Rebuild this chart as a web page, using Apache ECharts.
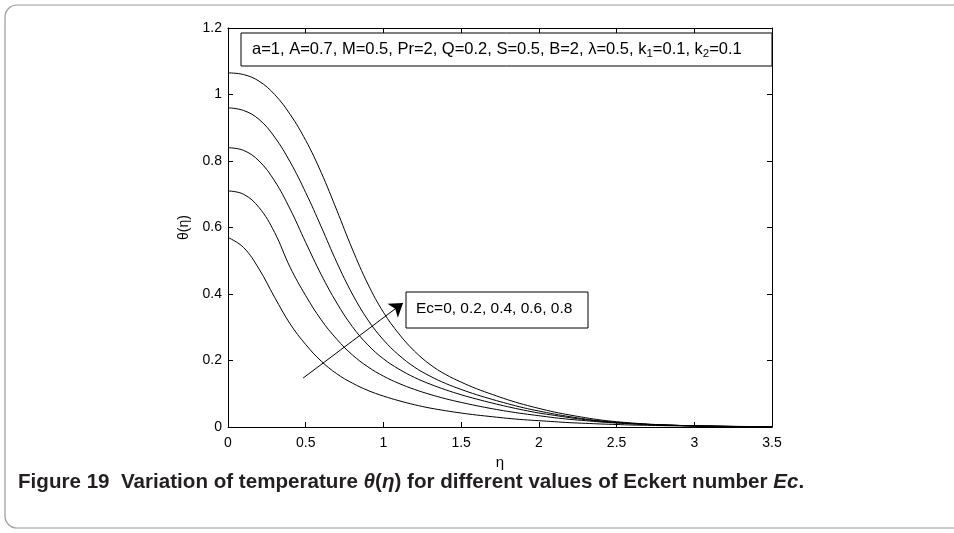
<!DOCTYPE html>
<html>
<head>
<meta charset="utf-8">
<script src="https://cdn.jsdelivr.net/npm/echarts@6/dist/echarts.min.js"></script>
<style>
html,body{margin:0;padding:0;background:#fff;}
#chart{width:954px;height:533px;}
</style>
</head>
<body>
<div id="chart"></div>
<script>
// eta values (x axis)
const eta = [0,0.1,0.2,0.3,0.4,0.5,0.6,0.7,0.8,0.9,1.0,1.1,1.2,1.3,1.4,1.5,1.6,1.7,1.8,1.9,2.0,2.1,2.2,2.3,2.4,2.5,2.6,2.7,2.8,2.9,3.0,3.1,3.2,3.3,3.4,3.5];
// theta(eta) for Ec = 0, 0.2, 0.4, 0.6, 0.8
const ec00 = [0.57,0.54,0.475,0.39,0.31,0.248,0.198,0.16,0.132,0.11,0.093,0.079,0.067,0.057,0.049,0.042,0.036,0.031,0.026,0.022,0.019,0.016,0.013,0.011,0.009,0.0075,0.006,0.005,0.004,0.0033,0.0027,0.0022,0.0018,0.0014,0.0011,0.0008];
const ec02 = [0.71,0.70,0.66,0.585,0.48,0.395,0.322,0.264,0.217,0.181,0.153,0.131,0.113,0.098,0.085,0.074,0.064,0.055,0.047,0.040,0.034,0.028,0.023,0.019,0.015,0.012,0.0095,0.0075,0.006,0.0047,0.0037,0.0029,0.0022,0.0017,0.0013,0.001];
const ec04 = [0.84,0.832,0.80,0.74,0.655,0.555,0.458,0.373,0.302,0.247,0.205,0.174,0.149,0.129,0.112,0.097,0.084,0.072,0.061,0.051,0.042,0.035,0.028,0.022,0.017,0.013,0.01,0.0078,0.006,0.0046,0.0035,0.0027,0.002,0.0015,0.0011,0.0008];
const ec06 = [0.96,0.952,0.925,0.872,0.797,0.705,0.602,0.495,0.40,0.322,0.262,0.216,0.18,0.153,0.131,0.113,0.097,0.083,0.070,0.058,0.048,0.039,0.031,0.024,0.018,0.014,0.0105,0.008,0.006,0.0045,0.0034,0.0025,0.0018,0.0013,0.001,0.0007];
const ec08 = [1.065,1.06,1.04,1.0,0.94,0.862,0.765,0.652,0.535,0.43,0.345,0.28,0.228,0.188,0.158,0.135,0.115,0.098,0.082,0.068,0.056,0.045,0.036,0.028,0.021,0.016,0.012,0.0088,0.0065,0.0047,0.0034,0.0024,0.0017,0.0012,0.0009,0.0006];
const seriesList = [ec00, ec02, ec04, ec06, ec08];
const xTicks = {min:0, max:3.5, interval:0.5};
const yTicks = {min:0, max:1.2, interval:0.2};

const chart = echarts.init(document.getElementById('chart'));
const FONT = 'Liberation Sans, Arial, sans-serif';
function axisCommon(){
  return {
    axisLine:{show:true, onZero:false, lineStyle:{color:'#000', width:1}},
    axisTick:{show:true, inside:true, length:5, lineStyle:{color:'#000'}},
    splitLine:{show:false}
  };
}
const option = {
  animation:false,
  backgroundColor:'#fff',
  grid:{left:228, right:182, top:28, bottom:106},
  xAxis:[
    Object.assign({type:'value', position:'bottom', min:xTicks.min, max:xTicks.max, interval:xTicks.interval,
      axisLabel:{color:'#000', fontSize:14, fontFamily:FONT, margin:9},
      name:'η', nameLocation:'middle', nameGap:27, nameTextStyle:{color:'#000', fontSize:15, fontFamily:FONT}}, axisCommon()),
    Object.assign({type:'value', position:'top', min:xTicks.min, max:xTicks.max, interval:xTicks.interval,
      axisLabel:{show:false}}, axisCommon())
  ],
  yAxis:[
    Object.assign({type:'value', position:'left', min:yTicks.min, max:yTicks.max, interval:yTicks.interval,
      axisLabel:{color:'#000', fontSize:14, fontFamily:FONT, margin:6},
      name:'θ(η)', nameLocation:'middle', nameGap:31, nameRotate:90, nameTextStyle:{color:'#000', fontSize:14, fontFamily:FONT}}, axisCommon()),
    Object.assign({type:'value', position:'right', min:yTicks.min, max:yTicks.max, interval:yTicks.interval,
      axisLabel:{show:false}}, axisCommon())
  ],
  series: seriesList.map(function(arr){
    return {
      type:'line', xAxisIndex:0, yAxisIndex:0, showSymbol:false, symbol:'none', smooth:0.4,
      lineStyle:{color:'#000', width:1}, data: eta.map(function(x,i){return [x, arr[i]];})
    };
  }).concat([{
    type:'lines', coordinateSystem:'cartesian2d', xAxisIndex:0, yAxisIndex:0,
    symbol:['none','arrow'], symbolSize:[0,13],
    lineStyle:{color:'#000', width:1, opacity:1},
    data:[{coords:[[0.483,0.147],[1.126,0.373]]}]
  }]),
  graphic:[
    {type:'rect', shape:{x:5, y:5, width:970, height:523, r:12}, style:{fill:'none', stroke:'#9a9a9a', lineWidth:1.2}, silent:true},
    {type:'rect', shape:{x:241, y:33, width:531, height:33}, style:{fill:'#fff', stroke:'#000', lineWidth:1}, z:10},
    {type:'text', x:252, y:49, z:11, style:{
      text:'{n|a=1, A=0.7, M=0.5, Pr=2, Q=0.2, S=0.5, B=2, λ=0.5, k}{s|1}{n|=0.1, k}{s|2}{n|=0.1}',
      verticalAlign:'middle', rich:{
        n:{fontSize:16.5, fontFamily:FONT, fill:'#000', lineHeight:20},
        s:{fontSize:11.5, fontFamily:FONT, fill:'#000', lineHeight:20, padding:[10,0,0,0]}
      }}},
    {type:'rect', shape:{x:406, y:292, width:182, height:36}, style:{fill:'#fff', stroke:'#000', lineWidth:1}, z:10},
    {type:'text', x:416, y:309, z:11, style:{text:'Ec=0, 0.2, 0.4, 0.6, 0.8', fontSize:15.5, fontFamily:FONT, fill:'#000', verticalAlign:'middle'}},
    {type:'text', x:18, y:482, z:11, style:{
      text:'{b|Figure 19  Variation of temperature }{i|θ}{b|(}{i|η}{b|) for different values of Eckert number }{i|Ec}{b|.}',
      verticalAlign:'middle', rich:{
        b:{fontSize:20.6, fontWeight:'bold', fontFamily:FONT, fill:'#231f20'},
        i:{fontSize:20.6, fontWeight:'bold', fontStyle:'italic', fontFamily:FONT, fill:'#231f20'}
      }}}
  ]
};
chart.setOption(option);
</script>
</body>
</html>
